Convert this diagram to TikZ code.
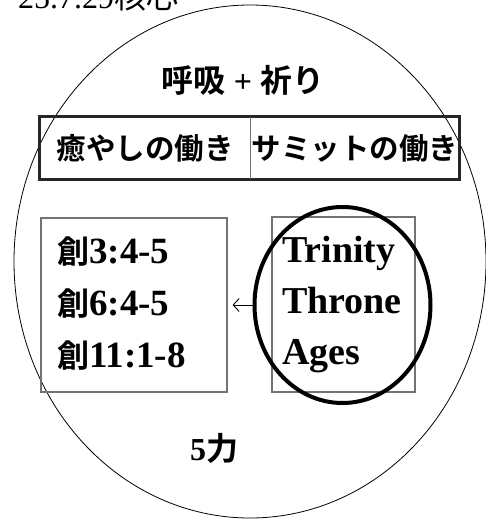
\documentclass[tikz,border=0pt]{standalone}
\usepackage{fontspec}
\setmainfont{Liberation Serif}
\newfontfamily\jpfont[BoldFont={Noto Sans CJK JP Bold}]{Noto Sans CJK JP}
\usetikzlibrary{positioning,shapes.geometric,arrows.meta}

\tikzstyle{outline}=[draw=black!55,line width=1.2pt,inner sep=0pt]
\tikzstyle{cell}=[inner sep=0pt,minimum height=62pt,font=\fontsize{29.5}{29.5}\selectfont\jpfont\bfseries]
\tikzstyle{caption}=[inner sep=0pt,font=\fontsize{32}{32}\selectfont\bfseries]
\tikzstyle{verse}=[inner sep=0pt,anchor=base west,font=\fontsize{37}{37}\selectfont\bfseries]
\tikzstyle{wordline}=[inner sep=0pt,anchor=base west,font=\fontsize{38}{38}\selectfont\bfseries]
\newcommand{\rowgap}{52}

\begin{document}
\begin{tikzpicture}[x=1pt, y=-1pt]
    \useasboundingbox (0,0) rectangle (486,520);
    % date line, cut by the top edge
    \node[inner sep=0pt, anchor=base west, font=\fontsize{32}{32}\selectfont] (date) at (18,8) {25.7.29{\jpfont 核心}};
    % the big outer circle
    \node[draw, thick, ellipse, minimum width=472pt, minimum height=513pt] (world) at (250,261.5) {};
    \node[caption] (title) at (243,80) {{\jpfont 呼吸} + {\jpfont 祈り}};
    % header row with two cells
    \node[cell, minimum width=210pt] (heal) at (145,148) {癒やしの働き};
    \node[cell, minimum width=209pt, right=0pt of heal] (summit) {サミットの働き};
    \draw[black!85, line width=3pt] (heal.north west) rectangle (summit.south east);
    \draw[black!55, line width=0.8pt] (heal.north east) -- (heal.south east);
    % the two boxes below
    \node[outline, minimum width=186pt, minimum height=174pt] (gen) at (134,305) {};
    \node[outline, minimum width=143pt, minimum height=175pt] (names) at (343.5,304.5) {};
    \foreach \i/\ref in {0/3:4-5, 1/6:4-5, 2/11:1-8}
        \node[verse] (gen\i) at (57,263+\i*\rowgap) {{\jpfont\fontsize{32}{32}\selectfont 創}\ref};
    \foreach \i/\word in {0/Trinity, 1/Throne, 2/Ages}
        \node[wordline] (word\i) at (282,262+\i*51) {\word};
    % thick ring round the names
    \node[draw, ellipse, line width=4pt, minimum width=176pt, minimum height=196pt] (ring) at (342.5,305) {};
    \draw[-{Straight Barb[length=6pt,width=13pt]}, line width=0.9pt] (ring.west) -- ([xshift=5pt]gen.east);
    \node[caption] (power) at (214,448) {5{\jpfont 力}};
\end{tikzpicture}
\end{document}
